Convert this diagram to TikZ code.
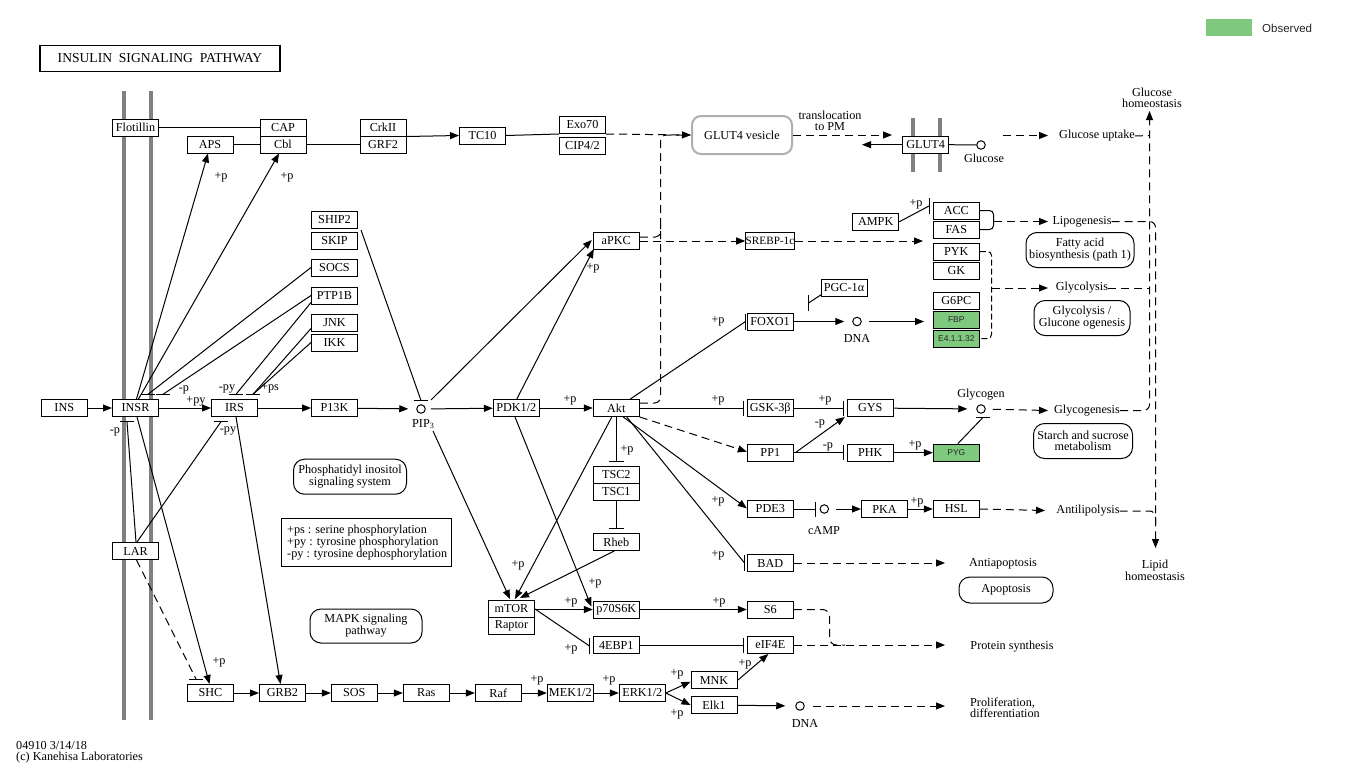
\documentclass[tikz,border=0pt]{standalone}
\usepackage{fontspec}
\setmainfont{Liberation Serif}
\newfontfamily\sansobs{Liberation Sans}
\usetikzlibrary{arrows.meta,calc}
\definecolor{obs}{RGB}{127,201,127}
\definecolor{memgray}{RGB}{128,128,128}
\definecolor{vesgray}{RGB}{175,175,175}
\newcommand{\kf}{\fontsize{12.2}{11}\selectfont}
\newcommand{\kbarh}[1]{\draw[ln] ($(#1)+(-7,0)$) -- ($(#1)+(7,0)$);}
\newcommand{\kbarv}[1]{\draw[ln] ($(#1)+(0,-8)$) -- ($(#1)+(0,8)$);}
\begin{document}
\begin{tikzpicture}[x=1pt,y=-1pt,
 kbox/.style={draw, fill=white, line width=1pt, minimum width=46pt, minimum height=17pt, inner sep=0pt, font=\kf},
 gbox/.style={kbox, fill=obs, font=\sansobs\fontsize{8.5}{9}\selectfont, text=black!85},
 rbox/.style={draw, line width=1pt, rounded corners=11pt, align=center, inner sep=0pt, font=\kf},
 txt/.style={inner sep=0pt, align=center, font=\kf},
 circ/.style={draw, circle, minimum size=8.5pt, inner sep=0pt, line width=1pt},
 ln/.style={line width=1pt},
 arr/.style={ln, -{Triangle[length=9pt,width=7pt]}},
 inh/.style={ln, -{Bar[width=15pt,line width=1pt]}},
 dsh/.style={ln, dash pattern=on 8pt off 5pt},
 mem/.style={line width=4pt, draw=memgray}]
\useasboundingbox (0,0) rectangle (1346,768);
\fill[white] (0,0) rectangle (1346,768);

% membranes
\draw[mem] (124,91) -- (124,720);
\draw[mem] (151,91) -- (151,720);
\draw[mem] (913,118) -- (913,172);
\draw[mem] (940,118) -- (940,172);

% title and legend
\node[draw, line width=1.8pt, minimum width=240pt, minimum height=26pt, inner sep=0pt, font=\fontsize{13.6}{12}\selectfont] (title) at (160,58.5) {INSULIN\ \ SIGNALING\ \ PATHWAY};
\node[fill=obs, minimum width=46pt, minimum height=17pt, inner sep=0pt] (legbox) at (1229,28) {};
\node[anchor=west, inner sep=0pt, font=\sansobs\fontsize{11.5}{11}\selectfont, text=black!85] (legtxt) at (1262,28) {Observed};

% top row
\node[kbox] (flot) at (135.5,127.5) {Flotillin};
\node[kbox] (cap) at (283,127.5) {CAP};
\node[kbox] (cbl) at (283,144.5) {Cbl};
\node[kbox] (aps) at (210,144.5) {APS};
\node[kbox] (crk) at (383,127.5) {CrkII};
\node[kbox] (grf2) at (383,144.5) {GRF2};
\node[kbox] (tc10) at (482.5,135.5) {TC10};
\node[kbox] (exo) at (582.5,125) {Exo70};
\node[kbox] (cip) at (582.5,145.8) {CIP4/2};
\node[rbox, draw=vesgray, line width=2pt, rounded corners=9pt, minimum width=100pt, minimum height=38pt] (ves) at (742,135) {GLUT4 vesicle};
\node[kbox] (glut4) at (925.7,144.7) {GLUT4};
\node[circ] (glc) at (981,145) {};

% left column inhibitors
\node[kbox] (ship2) at (334.5,220) {SHIP2};
\node[kbox] (skip) at (334.5,240.5) {SKIP};
\node[kbox] (socs) at (334.5,267.5) {SOCS};
\node[kbox] (ptp) at (334.5,295.5) {PTP1B};
\node[kbox] (jnk) at (334.5,322.5) {JNK};
\node[kbox] (ikk) at (334.5,342.5) {IKK};

% upper right
\node[kbox] (apkc) at (616.3,241) {aPKC};
\node[kbox, font=\fontsize{11.2}{10}\selectfont] (srebp) at (770,241) {SREBP-1c};
\node[kbox] (ampk) at (875.7,221.8) {AMPK};
\node[kbox] (acc) at (956.3,210.5) {ACC};
\node[kbox] (fas) at (956.3,229.5) {FAS};
\node[kbox] (pyk) at (956.3,251.5) {PYK};
\node[kbox] (gk) at (956.3,270.5) {GK};
\node[kbox] (g6pc) at (956.3,300.5) {G6PC};
\node[gbox] (fbp) at (956.3,319.5) {FBP};
\node[gbox] (e4) at (956.3,338.5) {E4.1.1.32};
\node[kbox] (pgc) at (844,287.5) {PGC-1α};
\node[kbox] (foxo) at (770,321.5) {FOXO1};
\node[circ] (dna1) at (857,321.5) {};

% main row
\node[kbox] (ins) at (64.3,408) {INS};
\node[kbox] (insr) at (135.5,408) {INSR};
\node[kbox] (irs) at (234.5,408) {IRS};
\node[kbox] (pi3k) at (334.5,408) {P13K};
\node[circ] (pip3) at (421,409) {};
\node[kbox] (pdk) at (516.3,408) {PDK1/2};
\node[kbox] (akt) at (616.3,408) {Akt};
\node[kbox] (gsk) at (770.3,408) {GSK-3β};
\node[kbox] (gys) at (870.3,408) {GYS};
\node[circ] (glyc) at (981,409) {};
\node[kbox] (pp1) at (770.3,452.7) {PP1};
\node[kbox] (phk) at (870.3,452.7) {PHK};
\node[gbox] (pyg) at (956.3,452.7) {PYG};
\node[kbox] (tsc2) at (616.3,475) {TSC2};
\node[kbox] (tsc1) at (616.3,492) {TSC1};
\node[kbox] (rheb) at (616.3,542) {Rheb};
\node[kbox] (pde3) at (770.3,509) {PDE3};
\node[circ] (camp) at (824.3,509) {};
\node[kbox] (pka) at (884.5,509) {PKA};
\node[kbox] (hsl) at (956.3,509) {HSL};
\node[kbox] (lar) at (135.5,551) {LAR};
\node[kbox] (bad) at (770.3,563) {BAD};

% lower part
\node[kbox] (mtor) at (511.5,609) {mTOR};
\node[kbox] (raptor) at (511.5,626) {Raptor};
\node[kbox] (p70) at (616.3,609.5) {p70S6K};
\node[kbox] (s6) at (770.3,609.5) {S6};
\node[kbox] (ebp) at (616.3,645) {4EBP1};
\node[kbox] (eif) at (770.3,645) {eIF4E};
\node[kbox] (mnk) at (714,680) {MNK};
\node[kbox] (elk) at (714,705) {Elk1};
\node[circ] (dna2) at (800,706) {};
\node[kbox] (shc) at (210.5,693) {SHC};
\node[kbox] (grb2) at (282.5,693) {GRB2};
\node[kbox] (sos) at (354.3,693) {SOS};
\node[kbox] (ras) at (426.3,693) {Ras};
\node[kbox] (raf) at (498.3,693) {Raf};
\node[kbox] (mek) at (570.3,693) {MEK1/2};
\node[kbox] (erk) at (642.3,693) {ERK1/2};

% rounded map boxes
\node[rbox, minimum width=108pt, minimum height=35pt] (fab) at (1080,250) {Fatty acid\\biosynthesis (path 1)};
\node[rbox, minimum width=96pt, minimum height=35pt] (glg) at (1082,318) {Glycolysis /\\Glucone ogenesis};
\node[rbox, minimum width=99pt, minimum height=35pt] (ssm) at (1083,441) {Starch and sucrose\\metabolism};
\node[rbox, minimum width=94pt, minimum height=26pt] (apo) at (1006,590) {Apoptosis};
\node[rbox, minimum width=113pt, minimum height=35pt] (pis) at (350,476.7) {Phosphatidyl inositol\\signaling system};
\node[rbox, minimum width=112pt, minimum height=34pt] (mapk) at (366,626) {MAPK signaling\\pathway};
\node[draw, line width=1pt, minimum width=170pt, minimum height=48pt, inner sep=0pt] (legend) at (366.7,542.5) {};
\node[txt, anchor=west, align=left] (legtext) at (287,542.5) {+ps : serine phosphorylation\\+py : tyrosine phosphorylation\\-py : tyrosine dephosphorylation};

% text labels
\node[txt] (trans) at (830,121) {translocation\\to PM};
\node[txt] (glcl) at (984,158) {Glucose};
\node[txt] (gupt) at (1097,136) {Glucose uptake};
\node[txt] (ghomeo) at (1152,98) {Glucose\\homeostasis};
\node[txt] (lipo) at (1082,221.5) {Lipogenesis};
\node[txt] (glyco) at (1082,288) {Glycolysis};
\node[txt] (glygen) at (1087,410.5) {Glycogenesis};
\node[txt] (antil) at (1088,511) {Antilipolysis};
\node[txt] (lipid) at (1155,570) {Lipid\\homeostasis};
\node[txt] (antia) at (1003,564) {Antiapoptosis};
\node[txt] (prot) at (1012,647) {Protein synthesis};
\node[txt, anchor=west, align=left] (prolif) at (970,708) {Proliferation,\\differentiation};
\node[txt] (glygl) at (981,395) {Glycogen};
\node[txt] (campl) at (824,531) {cAMP};
\node[txt] (dna1l) at (857,338) {DNA};
\node[txt] (dna2l) at (805,723) {DNA};
\node[txt] (pip3l) at (423,424) {PIP{\raisebox{-1.5pt}{\fontsize{8}{8}\selectfont 3}}};
\node[txt, anchor=west, align=left] (copy) at (16,752) {04910 3/14/18\\(c) Kanehisa Laboratories};

% phosphorylation labels
\foreach \x/\y/\t in {221/177/+p, 287/177/+p, 184/390/-p, 196/401/+py, 227/389/-py, 270/388/+ps, 115/432/-p, 228/431/-py,
  593/268/+p, 570/400/+p, 627/450/+p, 518/565/+p, 595/583/+p, 571/602/+p, 571/649/+p, 719/602/+p, 745/664/+p,
  677/674/+p, 677/714/+p, 537/680/+p, 609/680/+p, 219/662/+p, 718/321/+p, 718/400/+p, 825/400/+p, 820/424/-p,
  828/447/-p, 915/445/+p, 718/501/+p, 917/502/+p, 718/555/+p, 916/204/+p}
  \node[txt] at (\x,\y) {\t};

% ---- connectors ----
% top row
\draw[ln] (flot.east) -- (cap.west);
\draw[ln] (aps.east) -- (cbl.west);
\draw[ln] (cbl.east) -- (grf2.west);
\draw[arr] (crk.south east) -- (tc10.west);
\draw[ln] (tc10.east) -- (exo.south west);
\coordinate (vesin) at (ves.west);
\draw[arr, dsh] (exo.south east) -- (vesin);
\coordinate (gin) at (892,135);
\draw[arr, dsh] (ves.east) -- (gin);
\coordinate (gout) at (862,144.7);
\draw[arr] (glut4.west) -- (gout);
\draw[ln] (glut4.east) -- (glc);
\coordinate (gupa) at (1003,135.5);
\coordinate (gupb) at (1048,135.5);
\draw[arr, dsh] (gupa) -- (gupb);
% right dashed trunks
\draw[arr, dsh, rounded corners=6pt] (glygen.east) -- (1149.5,410.5) -- (1149.5,111);
\draw[dsh] (gupt.east) -- (1149.5,135.5);
\draw[dsh] (glyco.east) -- (1149.5,288);
\draw[arr, dsh, rounded corners=6pt] (lipo.east) -- (1155.5,221.5) -- (1155.5,548);
\draw[dsh, rounded corners=6pt] (antil.east) -- (1155.5,511) -- (1155.5,525);

% insulin main chain
\draw[arr] (ins) -- (insr);
\draw[arr] (insr) -- (irs);
\draw[arr] (irs) -- (pi3k);
\draw[arr, shorten >=8pt] (pi3k) -- (pip3);
\draw[arr, shorten <=5pt] (pip3) -- (pdk);
\draw[arr] (pdk) -- (akt);

% INSR up
\draw[arr] ($(insr.north)+(1,0)$) -- ($(aps.south)+(-2,0)$);
\draw[arr] ($(insr.north)+(3,0)$) -- ($(cbl.south)+(-4,0)$);
\coordinate (b1) at (148,394.3); \coordinate (b2) at (163,394.3);
\coordinate (b3) at (236,394.3); \coordinate (b4) at (253,394.3);
\draw[ln] (socs.west) -- (b1); \kbarh{b1}
\draw[ln] (ptp.west) -- (b2); \kbarh{b2}
\draw[ln] ($(ptp.south west)+(0,-2)$) -- (b3); \kbarh{b3}
\draw[ln] ($(jnk.south west)+(0,-3)$) -- (b4); \kbarh{b4}
\draw[ln] (ikk.west) -- (b4);
\coordinate (b5) at (421,400.5);
\draw[ln] ($(ship2.east)+(3,10)$) -- (b5); \kbarh{b5}

% INSR down
\coordinate (b6) at (127,421.7); \coordinate (b7) at (221,421.7);
\draw[ln] ($(lar.north)+(0.5,0)$) -- (b6); \kbarh{b6}
\draw[ln] ($(lar.north)+(1.5,0)$) -- (b7); \kbarh{b7}
\draw[arr] ($(insr.south)+(1.5,0)$) -- ($(shc.north)+(-1,0)$);
\draw[arr] ($(irs.south)+(1.5,0)$) -- ($(grb2.north)+(-2,0)$);
\coordinate (b8) at (196,679);
\draw[dsh] ($(lar.south)+(1,0)$) -- (b8); \kbarh{b8}

% MAPK chain
\draw[arr] (shc) -- (grb2);
\draw[arr] (grb2) -- (sos);
\draw[arr] (sos) -- (ras);
\draw[arr] (ras) -- (raf);
\draw[arr] (raf) -- (mek);
\draw[arr] (mek) -- (erk);
\draw[arr] (erk.east) -- ($(mnk.west)+(0,1.7)$);
\draw[arr] (erk.east) -- (elk.west);
\draw[arr] ($(mnk.east)+(0.5,0)$) -- ($(eif.south)+(-2,0)$);
\draw[arr, shorten >=10pt] (elk) -- (dna2);
\coordinate (prolifin) at (945,706);
\draw[arr, dsh, shorten <=8pt] (dna2) -- (prolifin);

% PI3K branch
\draw[arr] (431,400) -- ($(apkc.west)+(-1,-1)$);
\draw[arr] ($(pdk.north)+(0.5,0)$) -- ($(apkc.south west)+(1,-1)$);
\draw[arr, dsh] (apkc) -- (srebp);
\coordinate (srout) at (923,241);
\draw[arr, dsh] (srebp.east) -- (srout);
\draw[dsh, rounded corners=6pt] (akt.east |- 0,403) -- (660.5,403) -- (660.5,135) -- (690,135);
\draw[dsh, rounded corners=5pt] (apkc.east |- 0,237) -- (660.5,237) -- (660.5,225);
\coordinate (b9) at (929,206);
\draw[ln] (ampk.east) -- (b9); \kbarv{b9}
\draw[ln, rounded corners=4pt] (acc.east) -- (993.5,210.5) -- (993.5,229.5) -- (fas.east);
\coordinate (lipin) at (1048,221.5);
\draw[arr, dsh] (993.5,221.5) -- (lipin);
\draw[ln, dash pattern=on 6pt off 3pt, rounded corners=4pt] (pyk.east) -- (991.5,251.5) -- (991.5,338.5) -- (e4.east);
\coordinate (glyin) at (1048,288);
\draw[arr, dsh] (991.5,288) -- (glyin);

% Akt targets
\coordinate (b10) at (745.5,321.5);
\draw[ln] ($(akt.north)+(14,0)$) -- (b10); \kbarv{b10}
\coordinate (b11) at (808.5,303);
\draw[ln] ($(pgc.south west)+(1,-2)$) -- (b11); \kbarv{b11}
\draw[arr, shorten >=8pt] (foxo) -- (dna1);
\coordinate (fbpin) at (924,321.5);
\draw[arr, shorten <=7pt] (dna1) -- (fbpin);
\draw[inh] (akt.east) -- ($(gsk.west)+(-3,0)$);
\draw[inh] (gsk.east) -- ($(gys.west)+(-3,0)$);
\draw[arr, dsh] (akt.south east) -- ($(pp1.west)+(0,-1)$);
\draw[arr] ($(pp1.east)+(1.5,0)$) -- ($(gys.south west)+(-2,0)$);
\draw[inh] (pp1.east) -- ($(phk.west)+(-3,0)$);
\draw[arr] (phk) -- (pyg);
\draw[arr, shorten >=9pt] (gys) -- (glyc);
\coordinate (b12) at (982.7,417.7);
\draw[ln] ($(pyg.north)+(1.5,0)$) -- (b12); \kbarh{b12}
\coordinate (glygin) at (1048,410.5);
\draw[arr, dsh, shorten <=7pt] (glyc) -- (glygin);
\draw[arr] ($(akt.south)+(7,0)$) -- ($(pde3.west)+(0,-0.7)$);
\draw[inh] (pde3.east) -- (816,509);
\draw[arr, shorten <=7pt] (camp) -- (pka);
\draw[arr] (pka) -- (hsl);
\coordinate (antilin) at (1045,510.5);
\draw[arr, dsh] (hsl.east) -- (antilin);
\coordinate (b13) at (744.5,563);
\draw[ln] ($(akt.south)+(10.5,0)$) -- (b13); \kbarv{b13}
\coordinate (antiain) at (945,563);
\draw[arr, dsh] (bad.east) -- (antiain);
\draw[inh] (akt.south) -- ($(tsc2.north)+(0,-4)$);
\draw[inh] (tsc1.south) -- ($(rheb.north)+(0,-4)$);

% mTOR
\draw[arr] ($(akt.south)+(-4.5,0)$) -- ($(mtor.north)+(3.5,-1)$);
\draw[arr] (433,431) -- ($(mtor.north)+(-1.5,-1)$);
\draw[arr] ($(rheb.south)+(-2,0)$) -- ($(mtor.north)+(8.5,-2)$);
\draw[arr] ($(pdk.south)+(-1.3,0)$) -- ($(p70.west)+(-1.5,-3)$);
\draw[arr] (mtor.east |- p70.west) -- (p70.west);
\coordinate (b14) at (589.5,646);
\draw[ln] ($(mtor.north east)+(0,9)$) -- (b14); \kbarv{b14}
\draw[inh] (ebp.east) -- ($(eif.west)+(-3,0)$);
\draw[arr] (p70) -- (s6);
\coordinate (protin) at (945,645);
\draw[arr, dsh] (eif.east) -- (protin);
\draw[dsh, rounded corners=7pt] (s6.east) -- (829.5,609.5) -- (829.5,645) -- (845,645);
\end{tikzpicture}
\end{document}
